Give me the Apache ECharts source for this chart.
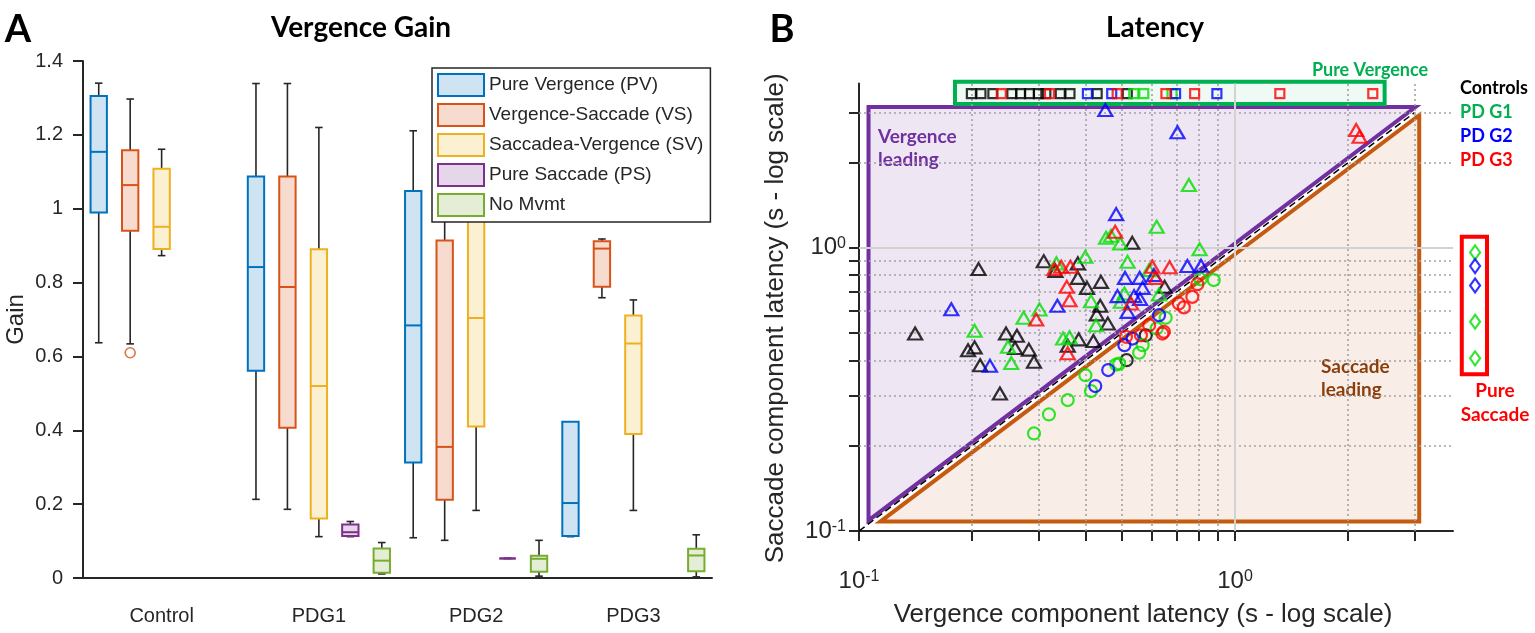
<!DOCTYPE html>
<html>
<head>
<meta charset="utf-8">
<script src="https://cdn.jsdelivr.net/npm/echarts@6.0.0/dist/echarts.min.js"></script>
<style>
html,body{margin:0;padding:0;background:#ffffff;}
#chart{width:1535px;height:633px;}
</style>
</head>
<body>
<div id="chart"></div>
<script>
// ================= Panel A : Vergence Gain (box plots) =================
const groups = ['Control', 'PDG1', 'PDG2', 'PDG3'];
const movementTypes = ['Pure Vergence (PV)', 'Vergence-Saccade (VS)', 'Saccadea-Vergence (SV)', 'Pure Saccade (PS)', 'No Mvmt'];
// per group: [min, Q1, median, Q3, max]  (null = no data)
const pvStats = [[0.637, 0.990, 1.154, 1.305, 1.340], [0.213, 0.561, 0.842, 1.087, 1.339], [0.109, 0.313, 0.684, 1.048, 1.211], [0.112, 0.114, 0.203, 0.423, 0.423]];
const vsStats = [[0.634, 0.940, 1.064, 1.158, 1.297], [0.186, 0.407, 0.788, 1.087, 1.339], [0.102, 0.212, 0.355, 0.914, 1.260], [0.759, 0.789, 0.892, 0.912, 0.918]];
const svStats = [[0.873, 0.891, 0.951, 1.108, 1.161], [0.112, 0.161, 0.520, 0.890, 1.220], [0.183, 0.410, 0.704, 0.967, 1.300], [0.183, 0.390, 0.635, 0.711, 0.753]];
const psStats = [null, [0.112, 0.114, 0.124, 0.145, 0.153], [0.053, 0.053, 0.053, 0.053, 0.053], null];
const noMvmtStats = [null, [0.011, 0.014, 0.047, 0.080, 0.096], [0.005, 0.017, 0.052, 0.060, 0.102], [0.003, 0.018, 0.061, 0.079, 0.117]];
const outlierGroups = ['Control'];
const outlierTypes = ['Vergence-Saccade (VS)'];
const outlierValues = [0.610];
const gainTicks = { min: 0, max: 1.4, step: 0.2 };

// ================= Panel B : Latency (log-log scatter) =================
// [vergence latency (s), saccade latency (s)]
const controlsVergenceLeading = [[0.141,0.498],[0.208,0.841],[0.310,0.897],[0.333,0.829],[0.382,0.881],[0.382,0.783],[0.440,0.758],[0.404,0.722],[0.650,0.728],[0.438,0.624],[0.429,0.582],[0.459,0.540],[0.246,0.498],[0.263,0.489],[0.260,0.443],[0.283,0.437],[0.203,0.445],[0.195,0.435],[0.210,0.385],[0.292,0.396],[0.384,0.475],[0.420,0.469],[0.359,0.451],[0.237,0.306],[0.533,1.041]];
const controlsSaccadeLeading = [[0.579,0.491],[0.515,0.401]];
const controlsPureVergence = [0.199,0.211,0.227,0.255,0.269,0.284,0.300,0.314,0.343,0.364,0.430,0.517];
const controlsPureSaccade = [];

const g1VergenceLeading = [[0.754,1.666],[0.619,1.186],[0.454,1.085],[0.468,1.102],[0.495,1.036],[0.805,0.989],[0.335,0.881],[0.400,0.929],[0.518,0.892],[0.591,0.834],[0.628,0.684],[0.508,0.690],[0.414,0.648],[0.302,0.606],[0.274,0.566],[0.427,0.533],[0.203,0.509],[0.249,0.447],[0.254,0.392],[0.349,0.478],[0.363,0.483],[0.497,0.645]];
const g1SaccadeLeading = [[0.878,0.769],[0.810,0.775],[0.654,0.566],[0.619,0.519],[0.568,0.453],[0.556,0.426],[0.492,0.390],[0.483,0.387],[0.400,0.355],[0.414,0.312],[0.359,0.290],[0.320,0.258],[0.292,0.221]];
const g1PureVergence = [0.538,0.572,0.680];
const g1PureSaccade = [0.963,0.548,0.407];

const g2VergenceLeading = [[0.452,3.066],[0.703,2.557],[0.483,1.315],[0.747,0.862],[0.812,0.864],[0.510,0.783],[0.558,0.783],[0.568,0.722],[0.487,0.675],[0.539,0.675],[0.559,0.659],[0.337,0.624],[0.176,0.607],[0.223,0.383],[0.609,0.801],[0.518,0.594]];
const g2SaccadeLeading = [[0.628,0.578],[0.534,0.478],[0.508,0.453],[0.460,0.370],[0.425,0.325]];
const g2PureVergence = [0.405,0.470,0.695,0.895];
const g2PureSaccade = [0.862,0.736];

const g3VergenceLeading = [[0.480,1.139],[0.345,0.857],[0.365,0.857],[0.331,0.841],[0.603,0.857],[0.670,0.853],[0.616,0.783],[0.357,0.728],[0.363,0.653],[0.296,0.558],[0.529,0.636],[0.359,0.424],[2.100,2.606],[2.144,2.467]];
const g3SaccadeLeading = [[0.794,0.744],[0.770,0.671],[0.731,0.616],[0.709,0.636],[0.647,0.505],[0.641,0.498],[0.562,0.491],[0.591,0.533],[0.513,0.485]];
const g3PureVergence = [0.239,0.321,0.486,0.655,0.781,1.316,2.325];
const g3PureSaccade = [];

const pureVergenceRowY = 3.5;   // saccade-axis position of the "pure vergence" row
const pureSaccadeColX = 4.35;   // vergence-axis position of the "pure saccade" column (drawn past the axis end)
const vergenceLeadingRegion = [[0.106,0.109],[0.106,3.14],[3.02,3.14]];
const saccadeLeadingRegion = [[0.114,0.108],[3.09,0.108],[3.09,2.94]];
const pureVergenceFrame = [[0.18,3.22],[2.5,3.22],[2.5,3.86],[0.18,3.86]];
const pureSaccadeFrame = [[4.01,0.358],[4.68,0.358],[4.68,1.094],[4.01,1.094]];
const identityLine = [[0.1,0.1],[3,3]];
const logRange = [0.1, 3.8];
const logTicks = [0.1,0.2,0.3,0.4,0.5,0.6,0.7,0.8,0.9,1,2,3];
const logMinorGrid = [0.2,0.3,0.4,0.5,0.6,0.7,0.8,0.9,2,3];
const logMajorGrid = [1];
const logLabels = [0.1, 1];
const groupNames = ['Controls', 'PD G1', 'PD G2', 'PD G3'];

// ================= styles =================
const FONT = 'Liberation Sans';
const BOLD = 'Lato';
const INK = '#262626';
const boxColors = [
  { stroke: '#0072BD', fill: '#cfe4f3' },
  { stroke: '#D95319', fill: '#f8dbcf' },
  { stroke: '#EDB120', fill: '#fcf0d3' },
  { stroke: '#7E2F8E', fill: '#e6d6e9' },
  { stroke: '#77AC30', fill: '#e4eed6' }
];
const groupColors = ['#000000', '#00e000', '#0000ff', '#ff0000'];
const labelColors = ['#000000', '#00b050', '#0000ff', '#ff0000'];

const statsByType = [pvStats, vsStats, svStats, psStats, noMvmtStats];
const nTypes = movementTypes.length;
const slotNames = [];
groups.forEach(g => movementTypes.forEach(t => slotNames.push(g + ' / ' + t)));

function boxRenderer(stroke, fill) {
  return function (params, api) {
    const slot = api.value(0);
    const lo = api.coord([slot, api.value(1)]);
    const q1 = api.coord([slot, api.value(2)]);
    const md = api.coord([slot, api.value(3)]);
    const q3 = api.coord([slot, api.value(4)]);
    const hi = api.coord([slot, api.value(5)]);
    const band = api.size([1, 0])[0];
    const bw = band * 0.52, cw = band * 0.24;
    const cx = md[0];
    const w = { stroke: INK, lineWidth: 1.6 };
    return {
      type: 'group',
      children: [
        { type: 'line', shape: { x1: cx, y1: hi[1], x2: cx, y2: q3[1] }, style: w },
        { type: 'line', shape: { x1: cx, y1: q1[1], x2: cx, y2: lo[1] }, style: w },
        { type: 'line', shape: { x1: cx - cw / 2, y1: hi[1], x2: cx + cw / 2, y2: hi[1] }, style: w },
        { type: 'line', shape: { x1: cx - cw / 2, y1: lo[1], x2: cx + cw / 2, y2: lo[1] }, style: w },
        { type: 'rect', shape: { x: cx - bw / 2, y: q3[1], width: bw, height: q1[1] - q3[1] }, style: { fill: fill, stroke: stroke, lineWidth: 2 } },
        { type: 'line', shape: { x1: cx - bw / 2, y1: md[1], x2: cx + bw / 2, y2: md[1] }, style: { stroke: stroke, lineWidth: 2 } }
      ]
    };
  };
}

const boxSeries = movementTypes.map((name, t) => ({
  name: name,
  type: 'custom',
  xAxisIndex: 1,
  yAxisIndex: 0,
  z: 2,
  renderItem: boxRenderer(boxColors[t].stroke, boxColors[t].fill),
  encode: { x: 0, y: [1, 2, 3, 4, 5] },
  itemStyle: { color: boxColors[t].fill, borderColor: boxColors[t].stroke },
  data: groups.map((g, gi) => statsByType[t][gi] ? [gi * nTypes + t].concat(statsByType[t][gi]) : null).filter(Boolean)
}));

const outlierSeries = {
  name: 'Outliers',
  type: 'scatter',
  xAxisIndex: 1,
  yAxisIndex: 0,
  z: 3,
  symbol: 'circle',
  symbolSize: 10,
  itemStyle: { color: 'rgba(0,0,0,0)', borderColor: '#D95319', borderWidth: 1.6 },
  data: outlierValues.map((v, i) => [groups.indexOf(outlierGroups[i]) * nTypes + movementTypes.indexOf(outlierTypes[i]), v])
};

// ---- panel B helpers ----
function polygonSeries(name, vertices, style, z) {
  return {
    name: name, type: 'custom', xAxisIndex: 2, yAxisIndex: 1, z: z, silent: true, clip: false,
    encode: { x: 0, y: 1 },
    data: vertices,
    renderItem: function (params, api) {
      if (params.dataIndex !== 0) return;
      return { type: 'polygon', shape: { points: vertices.map(v => api.coord(v)) }, style: style };
    }
  };
}

function hollow(name, data, symbol, size, color) {
  return {
    name: name, type: 'scatter', xAxisIndex: 2, yAxisIndex: 1, z: 6, clip: false,
    symbol: symbol, symbolSize: size,
    itemStyle: { color: 'rgba(0,0,0,0)', borderColor: color, borderWidth: 2.2 },
    data: data
  };
}

const vergenceLeadingSets = [controlsVergenceLeading, g1VergenceLeading, g2VergenceLeading, g3VergenceLeading];
const saccadeLeadingSets = [controlsSaccadeLeading, g1SaccadeLeading, g2SaccadeLeading, g3SaccadeLeading];
const pureVergenceSets = [controlsPureVergence, g1PureVergence, g2PureVergence, g3PureVergence];
const pureSaccadeSets = [controlsPureSaccade, g1PureSaccade, g2PureSaccade, g3PureSaccade];

const scatterSeries = [];
groupNames.forEach((g, i) => {
  scatterSeries.push(hollow(g + ' vergence leading', vergenceLeadingSets[i], 'triangle', [14, 12], groupColors[i]));
  scatterSeries.push(hollow(g + ' saccade leading', saccadeLeadingSets[i], 'circle', 12, groupColors[i]));
  scatterSeries.push(hollow(g + ' pure vergence', pureVergenceSets[i].map(x => [x, pureVergenceRowY]), 'rect', 9, groupColors[i]));
  scatterSeries.push(hollow(g + ' pure saccade', pureSaccadeSets[i].map(y => [pureSaccadeColX, y]), 'diamond', [10, 14], groupColors[i]));
});

const gridSeries = {
  name: 'grid lines', type: 'line', xAxisIndex: 2, yAxisIndex: 1, z: 1, silent: true,
  data: [[1, 1]], symbol: 'none', lineStyle: { opacity: 0 },
  markLine: {
    silent: true, symbol: ['none', 'none'], label: { show: false }, animation: false,
    lineStyle: { color: '#a3a3a3', type: [2, 3], width: 1.6 },
    emphasis: { disabled: true },
    data: logMinorGrid.map(v => ({ xAxis: v }))
      .concat(logMinorGrid.map(v => ({ yAxis: v })))
      .concat(logMajorGrid.map(v => ({ xAxis: v, lineStyle: { type: 'solid', color: '#d2d2d2', width: 2 } })))
      .concat(logMajorGrid.map(v => ({ yAxis: v, lineStyle: { type: 'solid', color: '#d2d2d2', width: 2 } })))
  }
};

const identitySeries = {
  name: 'y = x', type: 'line', xAxisIndex: 2, yAxisIndex: 1, z: 4, silent: true,
  data: identityLine, symbol: 'none',
  lineStyle: { color: '#000', width: 1.5, type: [7, 4] }
};

function powerLabel(v) {
  const e = Math.round(Math.log10(v));
  return '{b|10}{s|' + (e < 0 ? '-' : '') + Math.abs(e) + '}';
}
const powerRich = {
  b: { fontSize: 24, fontFamily: FONT, color: INK },
  s: { fontSize: 16, fontFamily: FONT, color: INK, verticalAlign: 'top' }
};

const option = {
  animation: false,
  backgroundColor: '#ffffff',
  textStyle: { fontFamily: FONT },
  grid: [
    { left: 83, right: 823, top: 61, bottom: 55 },
    { left: 859, right: 82, top: 83.6, bottom: 102 }
  ],
  legend: {
    orient: 'vertical', left: 432, top: 68,
    itemWidth: 46, itemHeight: 22, itemGap: 6,
    padding: [5, 7, 5, 5],
    backgroundColor: '#ffffff', borderColor: INK, borderWidth: 1.5,
    selectedMode: false, z: 10,
    textStyle: { fontSize: 19, color: INK, fontFamily: FONT },
    data: movementTypes.map((n, i) => ({ name: n, icon: 'rect', itemStyle: { color: boxColors[i].fill, borderColor: boxColors[i].stroke, borderWidth: 2 } }))
  },
  xAxis: [
    {
      type: 'category', gridIndex: 0, data: groups,
      axisLine: { lineStyle: { color: INK, width: 2 } },
      axisTick: { alignWithLabel: true, length: 14, lineStyle: { color: INK, width: 2 } },
      axisLabel: { fontSize: 20, color: INK, fontFamily: FONT, margin: 28 },
      splitLine: { show: false }
    },
    { type: 'category', gridIndex: 0, data: slotNames, show: false, boundaryGap: true },
    {
      type: 'log', gridIndex: 1, logBase: 10, min: logRange[0], max: logRange[1],
      axisLine: { show: true, onZero: false, lineStyle: { color: INK, width: 2 } },
      axisTick: { show: true, length: 10, customValues: logTicks, lineStyle: { color: INK, width: 2 } },
      axisLabel: { customValues: logLabels, formatter: powerLabel, rich: powerRich, margin: 38 },
      splitLine: { show: false }, minorTick: { show: false }, minorSplitLine: { show: false },
      name: 'Vergence component latency (s - log scale)', nameLocation: 'middle', nameGap: 71,
      nameTextStyle: { fontSize: 26, color: INK, fontFamily: FONT, padding: [0, 26, 0, 0] }
    }
  ],
  yAxis: [
    {
      type: 'value', gridIndex: 0, min: gainTicks.min, max: gainTicks.max, interval: gainTicks.step,
      axisLine: { show: true, lineStyle: { color: INK, width: 2 } },
      axisTick: { show: true, length: 10, lineStyle: { color: INK, width: 2 } },
      axisLabel: { fontSize: 20, color: INK, fontFamily: FONT, margin: 20 },
      splitLine: { show: false },
      name: 'Gain', nameLocation: 'middle', nameGap: 55,
      nameTextStyle: { fontSize: 24, color: INK, fontFamily: FONT }
    },
    {
      type: 'log', gridIndex: 1, logBase: 10, min: logRange[0], max: logRange[1],
      axisLine: { show: true, onZero: false, lineStyle: { color: INK, width: 2 } },
      axisTick: { show: true, length: 10, customValues: logTicks, lineStyle: { color: INK, width: 2 } },
      axisLabel: { customValues: logLabels, formatter: powerLabel, rich: powerRich, margin: 13 },
      splitLine: { show: false }, minorTick: { show: false }, minorSplitLine: { show: false },
      name: 'Saccade component latency (s - log scale)', nameLocation: 'middle', nameGap: 70,
      nameTextStyle: { fontSize: 26, color: INK, fontFamily: FONT, padding: [0, 22, 0, 0] }
    }
  ],
  graphic: { elements: [
    { type: 'text', x: 18, y: 30, style: { text: 'A', font: 'bold 38px ' + BOLD, fill: '#000', align: 'center', verticalAlign: 'middle' } },
    { type: 'text', x: 361, y: 28, style: { text: 'Vergence Gain', font: 'bold 28px ' + BOLD, fill: '#000', align: 'center', verticalAlign: 'middle' } },
    { type: 'text', x: 782, y: 30, style: { text: 'B', font: 'bold 38px ' + BOLD, fill: '#000', align: 'center', verticalAlign: 'middle' } },
    { type: 'text', x: 1155, y: 28, style: { text: 'Latency', font: 'bold 28px ' + BOLD, fill: '#000', align: 'center', verticalAlign: 'middle' } },
    { type: 'text', x: 1370, y: 70.5, style: { text: 'Pure Vergence', font: 'bold 18px ' + BOLD, fill: '#00b050', align: 'center', verticalAlign: 'middle' } },
    { type: 'text', x: 878, y: 148.3, style: { text: 'Vergence\nleading', font: 'bold 19px ' + BOLD, lineHeight: 23.3, fill: '#7030a0', align: 'left', verticalAlign: 'middle' } },
    { type: 'text', x: 1321, y: 378.3, style: { text: 'Saccade\nleading', font: 'bold 19px ' + BOLD, lineHeight: 23.3, fill: '#843c0c', align: 'left', verticalAlign: 'middle' } },
    { type: 'text', x: 1495, y: 403, style: { text: 'Pure\nSaccade', font: 'bold 19px ' + BOLD, lineHeight: 24, fill: '#ff0000', align: 'center', verticalAlign: 'middle' } }
  ].concat(groupNames.map((g, i) => ({
    type: 'text', x: 1460, y: 88.3 + i * 24, style: { text: g, font: 'bold 18px ' + BOLD, fill: labelColors[i], align: 'left', verticalAlign: 'middle' }
  }))) },
  series: boxSeries.concat([outlierSeries, gridSeries,
    polygonSeries('Vergence leading region', vergenceLeadingRegion, { fill: 'rgba(112,48,160,0.12)', stroke: '#7030a0', lineWidth: 4, lineJoin: 'miter' }, 2),
    polygonSeries('Saccade leading region', saccadeLeadingRegion, { fill: 'rgba(197,90,17,0.10)', stroke: '#c55a11', lineWidth: 4, lineJoin: 'miter' }, 2),
    polygonSeries('Pure vergence frame', pureVergenceFrame, { fill: 'rgba(0,176,80,0.06)', stroke: '#00b050', lineWidth: 4 }, 3),
    polygonSeries('Pure saccade frame', pureSaccadeFrame, { fill: '#ffffff', stroke: '#ff0000', lineWidth: 4 }, 3),
    identitySeries
  ]).concat(scatterSeries)
};

const chart = echarts.init(document.getElementById('chart'));
chart.setOption(option);
</script>
</body>
</html>
